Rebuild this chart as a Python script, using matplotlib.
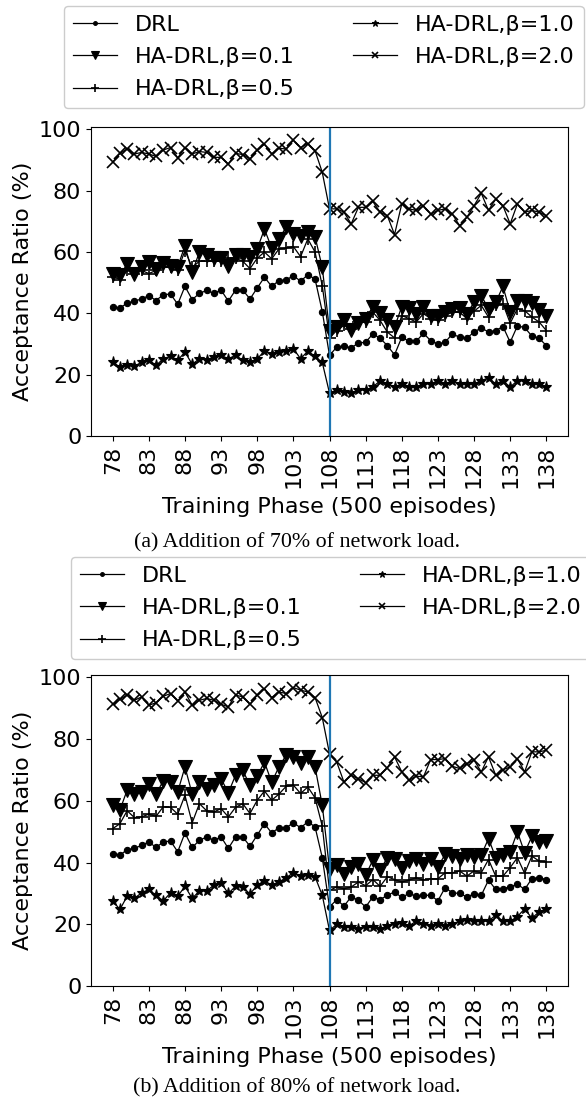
import numpy as np
import matplotlib
matplotlib.use("Agg")
import matplotlib.pyplot as plt

phases = list(range(78, 139))
tick_labels = list(range(78, 139, 5))
load_change = 108

labels = ["DRL", "HA-DRL,β=0.1", "HA-DRL,β=0.5", "HA-DRL,β=1.0", "HA-DRL,β=2.0"]
captions = ["(a) Addition of 70% of network load.", "(b) Addition of 80% of network load."]

# ---- panel (a): 70% load ----
a_drl = [42.0, 41.8, 43.3, 44.0, 44.7, 45.8, 44.2, 46.1, 46.3, 43.0, 48.8, 44.5, 46.5, 47.5, 46.5, 47.6, 44.0, 47.6, 47.6, 44.7,
         48.3, 51.8, 48.8, 50.7, 50.9, 52.3, 50.5, 52.6, 51.2, 40.6, 26.3,
         29.0, 29.2, 28.8, 30.3, 30.6, 33.3, 31.9, 29.5, 26.5, 32.2, 30.9, 30.9, 33.5, 31.1, 30.0, 30.6, 33.3, 32.2, 31.9, 33.9,
         35.3, 33.9, 34.4, 35.7, 30.6, 35.9, 35.4, 32.6, 31.9, 29.5]
a_b01 = [52.7, 52.4, 56.1, 53.0, 55.0, 56.6, 54.6, 56.3, 55.5, 55.2, 62.1, 53.4, 60.0, 59.0, 58.0, 58.0, 55.5, 59.0, 59.0, 58.5,
         61.0, 67.5, 61.3, 64.3, 68.1, 66.0, 65.3, 66.7, 65.0, 55.0, 34.4,
         35.5, 37.7, 34.7, 36.8, 38.3, 42.2, 40.1, 37.7, 35.5, 42.2, 41.8, 39.9, 42.0, 39.3, 39.0, 40.4, 41.5, 41.8, 39.9, 43.6,
         45.8, 41.5, 43.6, 48.8, 40.4, 44.2, 44.2, 43.3, 41.0, 39.3]
a_b05 = [52.0, 51.0, 54.0, 53.0, 54.0, 53.0, 54.0, 55.0, 55.0, 54.0, 60.5, 55.0, 57.0, 57.0, 57.0, 57.0, 58.0, 58.0, 57.0, 54.6,
         58.0, 60.0, 57.8, 61.0, 61.3, 61.8, 58.5, 64.3, 60.0, 49.0, 32.0,
         34.4, 36.1, 35.0, 37.2, 37.2, 40.4, 37.7, 33.9, 32.0, 39.3, 38.3, 37.2, 39.9, 38.3, 37.7, 39.3, 40.4, 40.4, 38.3, 40.7,
         42.6, 38.8, 42.6, 43.1, 36.8, 41.5, 40.9, 38.8, 37.2, 34.4]
a_b10 = [24.1, 22.5, 23.0, 22.7, 24.1, 24.9, 23.0, 25.2, 26.0, 24.7, 27.4, 23.4, 25.2, 24.9, 25.7, 26.3, 25.2, 26.3, 24.7, 24.1,
         25.2, 27.7, 26.8, 27.4, 27.7, 28.5, 25.2, 27.7, 26.0, 24.0, 14.0,
         15.0, 14.5, 14.0, 15.0, 15.0, 16.0, 18.0, 17.0, 16.0, 17.0, 16.0, 16.0, 17.0, 17.0, 18.0, 17.0, 18.0, 17.0, 17.0, 17.0,
         18.0, 19.0, 17.0, 18.0, 16.0, 18.0, 18.0, 17.0, 17.0, 16.0]
a_b20 = [89.3, 92.2, 93.6, 92.0, 92.5, 92.0, 91.2, 93.3, 94.1, 90.7, 94.1, 92.0, 92.8, 92.5, 90.9, 90.9, 88.7, 92.2, 91.8, 90.4,
         93.3, 95.2, 92.0, 93.9, 93.6, 96.5, 94.1, 95.4, 93.1, 86.0, 74.1,
         74.1, 73.0, 69.2, 74.6, 74.6, 76.5, 73.0, 71.9, 65.7, 75.7, 74.1, 73.6, 75.1, 72.4, 73.6, 74.1, 72.4, 68.6, 71.3, 75.1,
         79.2, 73.6, 77.3, 75.1, 69.2, 75.7, 73.0, 73.6, 73.0, 71.9]

# ---- panel (b): 80% load ----
b_drl = [42.9, 42.4, 44.2, 44.6, 45.6, 46.7, 44.9, 46.7, 47.0, 43.5, 49.6, 44.9, 47.2, 48.3, 47.2, 48.3, 44.6, 48.3, 48.3, 45.3,
         48.9, 52.6, 49.6, 51.3, 51.3, 52.9, 51.3, 53.2, 51.6, 41.6, 25.6,
         28.0, 25.9, 28.9, 27.8, 25.6, 28.9, 28.0, 29.4, 30.5, 28.7, 30.0, 29.1, 29.4, 29.4, 27.6, 31.9, 30.2, 30.0, 28.9, 29.8,
         29.4, 34.3, 31.3, 31.6, 32.1, 33.0, 31.3, 34.8, 35.1, 34.5]
b_b01 = [58.6, 57.0, 63.5, 62.2, 63.0, 65.6, 62.2, 66.5, 66.1, 62.9, 71.0, 62.2, 66.0, 64.0, 65.0, 67.2, 62.6, 68.3, 69.9, 65.0,
         68.0, 72.6, 66.0, 71.0, 74.8, 74.3, 72.3, 74.3, 71.0, 58.6, 38.0,
         39.1, 36.2, 38.6, 39.5, 35.9, 40.8, 37.5, 41.6, 41.3, 38.4, 40.5, 41.3, 39.7, 41.3, 38.6, 42.7, 42.1, 41.3, 42.4, 41.9,
         42.4, 47.8, 41.6, 42.4, 43.5, 50.0, 43.2, 48.5, 46.7, 47.0]
b_b05 = [51.0, 52.6, 56.8, 54.6, 54.8, 55.7, 55.0, 58.1, 57.9, 55.7, 61.8, 52.9, 59.1, 56.8, 56.4, 57.5, 54.8, 57.9, 59.1, 55.9,
         60.2, 63.2, 60.2, 62.2, 64.7, 65.1, 62.4, 64.5, 61.0, 51.8, 31.0,
         32.1, 31.5, 32.1, 33.7, 32.5, 34.5, 32.3, 35.4, 34.5, 33.7, 34.3, 35.1, 34.3, 34.8, 34.8, 36.7, 36.7, 37.3, 35.6, 37.3,
         36.7, 41.0, 35.6, 35.6, 38.4, 41.6, 36.5, 42.1, 40.5, 40.2]
b_b10 = [27.6, 24.8, 29.1, 28.4, 30.2, 31.3, 29.4, 27.6, 30.2, 29.1, 32.3, 28.4, 30.8, 30.8, 32.7, 33.4, 30.0, 32.3, 32.1, 29.8,
         32.7, 34.1, 32.7, 33.7, 35.1, 36.7, 35.6, 35.9, 35.4, 29.4, 18.0,
         20.0, 19.0, 19.0, 18.5, 19.0, 19.0, 18.5, 19.5, 20.0, 20.5, 19.5, 21.0, 20.0, 19.5, 20.0, 19.5, 20.0, 21.0, 21.5, 21.0,
         21.0, 21.0, 23.0, 21.0, 21.0, 22.5, 25.0, 22.0, 24.0, 25.0]
b_b20 = [91.3, 92.9, 94.3, 92.6, 93.7, 91.0, 91.8, 93.9, 94.8, 92.4, 95.3, 91.0, 92.6, 93.2, 92.6, 91.3, 90.5, 94.3, 93.7, 91.3,
         94.3, 96.4, 93.5, 95.3, 94.8, 96.7, 95.9, 95.3, 93.5, 87.0, 75.3,
         72.6, 66.1, 68.3, 67.2, 65.9, 68.3, 68.3, 70.8, 74.3, 69.4, 66.7, 68.0, 67.8, 73.4, 73.4, 73.7, 71.2, 70.5, 72.1, 73.2,
         69.4, 74.3, 68.3, 70.1, 71.0, 73.7, 69.4, 75.9, 75.9, 76.4]

panels = [[a_drl, a_b01, a_b05, a_b10, a_b20], [b_drl, b_b01, b_b05, b_b10, b_b20]]
markers = ["o", "v", "+", "*", "x"]
msizes = [4.5, 9.5, 9, 8, 8]

W, H = 586, 1105
fig = plt.figure(figsize=(W / 100, H / 100), dpi=100)
plt.rcParams["font.family"] = ["DejaVu Sans"]
FS = 16
LFS = 16

# axes boxes in pixels: (left, top, right, bottom)
boxes = [(91, 127, 568, 436), (91, 675, 568, 986)]
legend_pos = [(64, 6), (71, 557)]
caption_y = [543, 1088]

for k, series in enumerate(panels):
    l, t, r, b = boxes[k]
    ax = fig.add_axes([l / W, 1 - b / H, (r - l) / W, (b - t) / H])
    for s, m, ms, lab in zip(series, markers, msizes, labels):
        ax.plot(phases, s, color="black", lw=0.9, marker=m, markersize=ms,
                markeredgewidth=1.2 if m in ("+", "x") else 0.8, label=lab)
    ax.axvline(load_change, color="#1f77b4", lw=1.6)
    ax.set_ylim(0, 100.8)
    ax.set_xlim(75, 141)
    ax.set_yticks([0, 20, 40, 60, 80, 100])
    ax.set_xticks(tick_labels)
    ax.set_xticklabels([str(v) for v in tick_labels], rotation=90)
    ax.tick_params(labelsize=FS)
    ax.set_xlabel("Training Phase (500 episodes)", fontsize=FS, labelpad=6)
    ax.set_ylabel("Acceptance Ratio (%)", fontsize=FS)
    h, lb = ax.get_legend_handles_labels()
    lx, ly = legend_pos[k]
    fig.legend(h, lb, loc="upper left", bbox_to_anchor=(lx / W, 1 - ly / H),
               borderaxespad=0, ncol=2, fontsize=LFS, markerscale=0.6,
               handlelength=2.0, labelspacing=0.55, borderpad=0.4,
               columnspacing=2.6, framealpha=1, edgecolor="#cccccc")
    fig.text(297 / W, 1 - caption_y[k] / H, captions[k], ha="center", va="center",
             fontsize=15.8, family=["Liberation Serif"])

fig.savefig("out.png", dpi=100)
